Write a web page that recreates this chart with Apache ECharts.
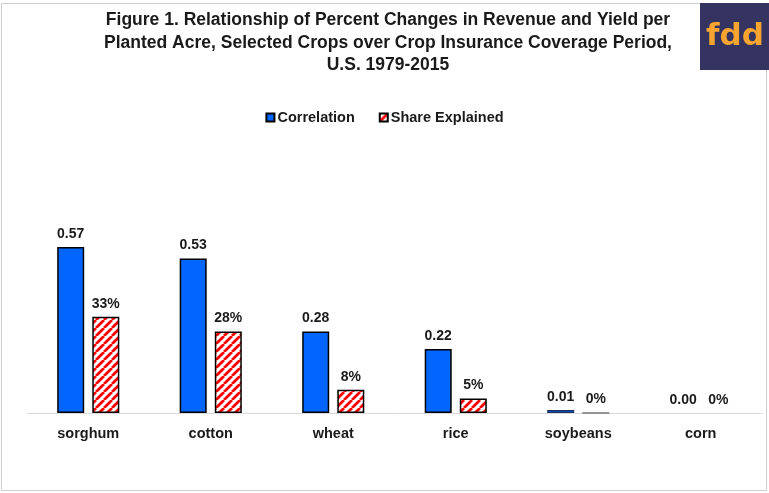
<!DOCTYPE html>
<html><head><meta charset="utf-8">
<script src="https://cdn.jsdelivr.net/npm/echarts@6/dist/echarts.min.js"></script>
<style>html,body{margin:0;padding:0;background:#fff}#c{width:769px;height:493px}</style>
</head><body><div id="c"></div>
<script>
const categories = ['sorghum', 'cotton', 'wheat', 'rice', 'soybeans', 'corn'];
const correlation = [0.57, 0.53, 0.28, 0.22, 0.01, 0.00];
const shareExplained = [0.33, 0.28, 0.08, 0.05, 0.0001, 0.00];
const titleText = 'Figure 1. Relationship of Percent Changes in Revenue and Yield per\nPlanted Acre, Selected Crops over Crop Insurance Coverage Period,\nU.S. 1979-2015';

function stripes() {
  const c = document.createElement('canvas');
  c.width = 8; c.height = 8;
  const g = c.getContext('2d');
  g.fillStyle = '#fff'; g.fillRect(0, 0, 8, 8);
  g.strokeStyle = '#ff0000'; g.lineWidth = 2.8;
  g.beginPath();
  for (let k = -8; k <= 16; k += 8) { g.moveTo(k, 8); g.lineTo(k + 8, 0); }
  g.stroke();
  return c;
}
function prep(arr) {
  return arr.map(v => v === 0 ? {value: v, itemStyle: {borderWidth: 0}}
    : v < 0.005 ? {value: v, itemStyle: {borderColor: '#777', borderWidth: 1}}
    : v < 0.02 ? {value: v, itemStyle: {borderColor: '#1c2f5e', borderWidth: 1.2}} : v);
}

const chart = echarts.init(document.getElementById('c'));
const lblFont = {fontFamily: 'Liberation Sans, Arial', fontWeight: 'bold', fontSize: 14, color: '#1a1a1a'};
chart.setOption({
  animation: false,
  backgroundColor: '#fff',
  title: {
    text: titleText, left: 383, top: 4, textAlign: 'center',
    textStyle: {fontFamily: 'Liberation Sans, Arial', fontWeight: 'bold', fontSize: 17.5, lineHeight: 22.5, color: '#1a1a1a'}
  },
  legend: {
    top: 105, left: 'center', itemWidth: 8, itemHeight: 8, itemGap: 24, icon: 'rect',
    textStyle: {fontFamily: 'Liberation Sans, Arial', fontWeight: 'bold', fontSize: 14.5, color: '#1a1a1a', padding: [0,0,0,-2]},
    data: ['Correlation', 'Share Explained']
  },
  grid: {left: 27, right: 7, top: 209, bottom: 80},
  xAxis: {
    type: 'category', data: categories,
    axisLine: {lineStyle: {color: '#d9d9d9', width: 1}},
    axisTick: {show: false},
    axisLabel: Object.assign({margin: 13}, lblFont, {fontSize: 14.5})
  },
  yAxis: {type: 'value', min: 0, max: 0.7, show: false, splitLine: {show: false}},
  graphic: [
    {type: 'rect', shape: {x: 1.5, y: 3.5, width: 765, height: 487}, style: {fill: 'none', stroke: '#cfcfcf', lineWidth: 1}, z: 0},
    {type: 'rect', shape: {x: 700, y: 3, width: 69, height: 67}, style: {fill: '#35335f'}, z: 10},
    {type: 'text', x: 735, y: 37, style: {text: 'fdd', fill: '#f7a530', font: 'bold 31px "DejaVu Sans", Arial', textAlign: 'center', textVerticalAlign: 'middle'}, z: 11}
  ],
  series: [
    {
      name: 'Correlation', type: 'bar', data: prep(correlation),
      barWidth: 27, barGap: '30%',
      itemStyle: {color: '#0066ff', borderColor: '#000', borderWidth: 1.5},
      label: Object.assign({show: true, position: 'top', distance: 6, formatter: p => p.value.toFixed(2)}, lblFont)
    },
    {
      name: 'Share Explained', type: 'bar', data: prep(shareExplained),
      barWidth: 27,
      itemStyle: {color: {image: stripes(), repeat: 'repeat'}, borderColor: '#000', borderWidth: 1.5},
      label: Object.assign({show: true, position: 'top', distance: 6, formatter: p => Math.round(p.value * 100) + '%'}, lblFont)
    }
  ]
});
</script></body></html>
